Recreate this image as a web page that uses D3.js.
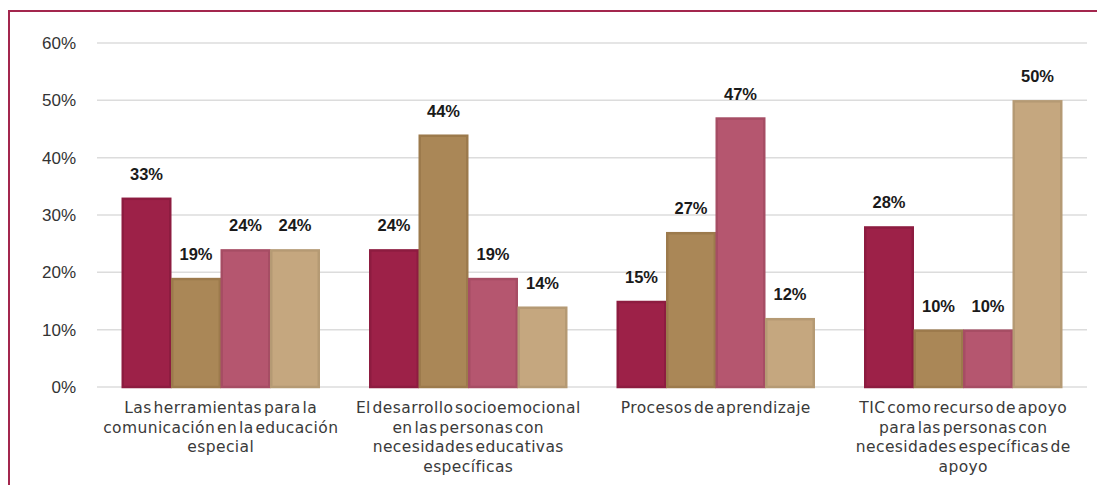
<!DOCTYPE html>
<html>
<head>
<meta charset="utf-8">
<script src="https://cdn.jsdelivr.net/npm/d3@7"></script>
<style>
  html, body { margin: 0; padding: 0; background: #fff; }
  svg { display: block; }
</style>
</head>
<body>
<div id="chart"></div>
<script>
// Categories (x axis), wrapped into lines as printed
const categories = [
  ["Las herramientas para la", "comunicación en la educación", "especial"],
  ["El desarrollo socioemocional", "en las personas con", "necesidades educativas", "específicas"],
  ["Procesos de aprendizaje"],
  ["TIC como recurso de apoyo", "para las personas con", "necesidades específicas de", "apoyo"]
];

// Four series per category (percent)
const seriesA = [33, 24, 15, 28];
const seriesB = [19, 44, 27, 10];
const seriesC = [24, 19, 47, 10];
const seriesD = [24, 14, 12, 50];

const seriesFill   = ["#9d2148", "#aa8757", "#b5566f", "#c5a77f"];
const seriesStroke = ["#8d1c40", "#9c7a4c", "#a64d64", "#b59a74"];

const yTicks = [0, 10, 20, 30, 40, 50, 60];

const W = 1097, H = 485;
const svg = d3.select("#chart").append("svg")
  .attr("width", W).attr("height", H);

// frame accent lines (top and left)
svg.append("line").attr("x1", 9).attr("x2", W).attr("y1", 11).attr("y2", 11)
  .attr("stroke", "#a3264d").attr("stroke-width", 2);
svg.append("line").attr("x1", 9).attr("x2", 9).attr("y1", 10).attr("y2", H)
  .attr("stroke", "#a3264d").attr("stroke-width", 2);

const x0 = d3.scaleBand()
  .domain(d3.range(categories.length))
  .range([97, 1087])
  .paddingInner(0.2)
  .paddingOuter(0.1);

const series = [seriesA, seriesB, seriesC, seriesD];
const x1 = d3.scaleBand()
  .domain(d3.range(series.length))
  .range([0, x0.bandwidth()])
  .padding(0);

const y = d3.scaleLinear().domain([0, 60]).range([387, 43]);

// gridlines
svg.append("g").selectAll("line").data(yTicks).join("line")
  .attr("x1", 97).attr("x2", 1087)
  .attr("y1", d => y(d)).attr("y2", d => y(d))
  .attr("stroke", "#dcdcdc").attr("stroke-width", 1.5);

// y tick labels
svg.append("g").selectAll("text").data(yTicks).join("text")
  .attr("x", 76).attr("y", d => y(d))
  .attr("dy", "0.36em")
  .attr("text-anchor", "end")
  .attr("font-family", "Liberation Sans, Arial, sans-serif")
  .attr("font-size", 17)
  .attr("fill", "#333")
  .text(d => d + "%");

// bars
const rows = [];
categories.forEach((c, i) => series.forEach((s, j) => rows.push({ i, j, v: s[i] })));

const bars = svg.append("g");
bars.selectAll("rect").data(rows).join("rect")
  .attr("x", d => x0(d.i) + x1(d.j) + 1)
  .attr("y", d => y(d.v) + 1)
  .attr("width", x1.bandwidth() - 2)
  .attr("height", d => y(0) - y(d.v) - 1)
  .attr("fill", d => seriesFill[d.j])
  .attr("stroke", d => seriesStroke[d.j])
  .attr("stroke-width", 2.5);

// value labels
svg.append("g").selectAll("text").data(rows).join("text")
  .attr("x", d => x0(d.i) + x1(d.j) + x1.bandwidth() / 2)
  .attr("y", d => y(d.v) - 18)
  .attr("text-anchor", "middle")
  .attr("font-family", "Liberation Sans, Arial, sans-serif")
  .attr("font-weight", "bold")
  .attr("font-size", 16.5)
  .attr("fill", "#1a1a1a")
  .text(d => d.v + "%");

// category labels
const cat = svg.append("g").selectAll("text").data(categories).join("text")
  .attr("x", (d, i) => x0(i) + x0.bandwidth() / 2)
  .attr("y", 413)
  .attr("text-anchor", "middle")
  .attr("font-family", "DejaVu Sans, sans-serif")
  .attr("font-size", 15.5)
  .attr("word-spacing", "-3.5px")
  .attr("letter-spacing", "0.4px")
  .attr("fill", "#3a3a3a");
cat.each(function(lines) {
  d3.select(this).selectAll("tspan").data(lines).join("tspan")
    .attr("x", d3.select(this).attr("x"))
    .attr("dy", (d, k) => k === 0 ? 0 : 19.5)
    .text(d => d);
});
</script>
</body>
</html>
